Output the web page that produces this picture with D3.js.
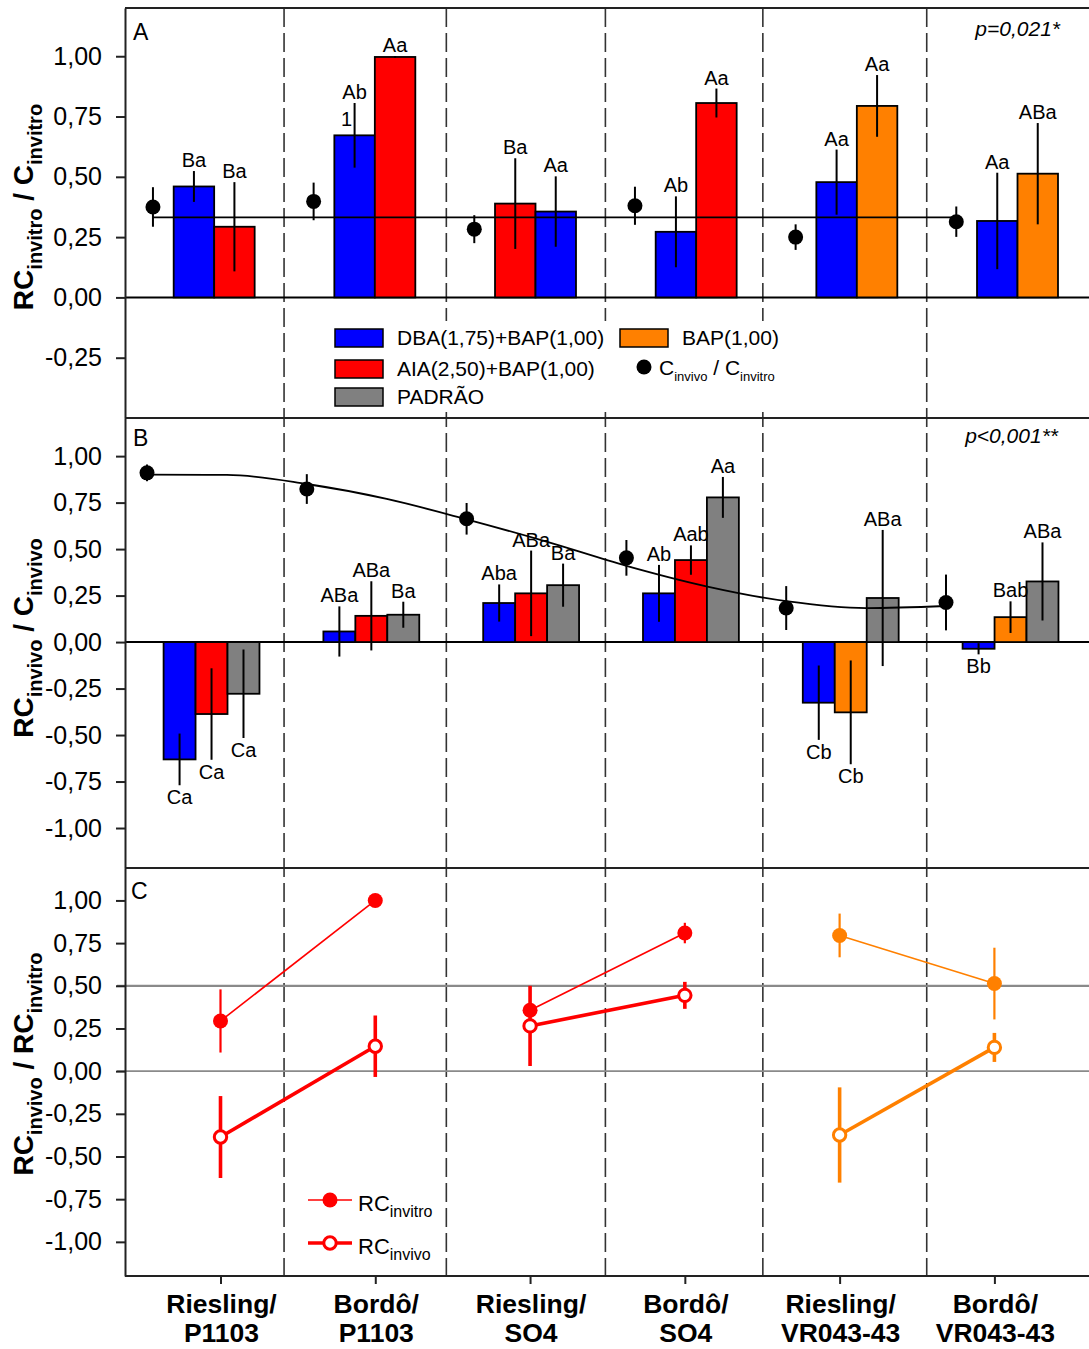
<!DOCTYPE html>
<html>
<head>
<meta charset="utf-8">
<script src="https://cdn.jsdelivr.net/npm/d3@7"></script>
<style>
  html, body { margin: 0; padding: 0; background: #ffffff; }
  svg { display: block; font-family: "Liberation Sans", Arial, sans-serif; }
  text { white-space: pre; }
</style>
</head>
<body>
<svg id="chart" width="1089" height="1349"></svg>
<script>
// ---------------- data ----------------
const categoryTop    = ["Riesling/", "Bordô/", "Riesling/", "Bordô/", "Riesling/", "Bordô/"];
const categoryBottom = ["P1103", "P1103", "SO4", "SO4", "VR043-43", "VR043-43"];

const treatmentKeys   = ["DBA", "AIA", "PAD", "BAP"];
const treatmentNames  = ["DBA(1,75)+BAP(1,00)", "AIA(2,50)+BAP(1,00)", "PADRÃO", "BAP(1,00)"];
const treatmentColors = ["#0000ff", "#ff0000", "#808080", "#ff8000"];

// Panel A: RC invitro / C invitro
const aTreat   = [["DBA","AIA"], ["DBA","AIA"], ["AIA","DBA"], ["DBA","AIA"], ["DBA","BAP"], ["DBA","BAP"]];
const aValue   = [[0.460, 0.293], [0.672, 0.997], [0.389, 0.356], [0.272, 0.806], [0.478, 0.794], [0.317, 0.513]];
const aError   = [[0.064, 0.185], [0.134, 0.004], [0.188, 0.146], [0.147, 0.060], [0.135, 0.128], [0.200, 0.210]];
const aLetters = [["Ba","Ba"], ["Ab","Aa"], ["Ba","Aa"], ["Ab","Aa"], ["Aa","Aa"], ["Aa","ABa"]];
const aNotes   = [{ cat: 1, bar: 0, text: "1" }];
const aRatio    = [0.375, 0.398, 0.283, 0.380, 0.250, 0.314];
const aRatioErr = [0.082, 0.078, 0.058, 0.079, 0.053, 0.063];
const aRatioMean = 0.332;
const aPValue = "p=0,021*";

// Panel B: RC invivo / C invivo
const bTreat   = [["DBA","AIA","PAD"], ["DBA","AIA","PAD"], ["DBA","AIA","PAD"], ["DBA","AIA","PAD"], ["DBA","BAP","PAD"], ["DBA","BAP","PAD"]];
const bValue   = [[-0.631, -0.387, -0.278], [0.057, 0.141, 0.147], [0.210, 0.262, 0.306], [0.262, 0.441, 0.778], [-0.326, -0.378, 0.237], [-0.036, 0.134, 0.326]];
const bError   = [[0.139, 0.246, 0.238], [0.135, 0.186, 0.070], [0.100, 0.230, 0.116], [0.153, 0.079, 0.110], [0.200, 0.279, 0.366], [0.030, 0.085, 0.210]];
const bLetters = [["Ca","Ca","Ca"], ["ABa","ABa","Ba"], ["Aba","ABa","Ba"], ["Ab","Aab","Aa"], ["Cb","Cb","ABa"], ["Bb","Bab","ABa"]];
const bRatio    = [0.910, 0.823, 0.663, 0.453, 0.183, 0.213];
const bRatioErr = [0.045, 0.080, 0.085, 0.096, 0.118, 0.150];
// fitted trend of C invivo / C invitro (position in category units, value)
const trendT = [0, 0.5, 1, 1.5, 2, 2.5, 3, 3.5, 4, 4.5, 5];
const trendV = [0.900, 0.899, 0.850, 0.770, 0.660, 0.540, 0.410, 0.300, 0.220, 0.183, 0.194];
const bPValue = "p<0,001**";

// Panel C: RC invivo / RC invitro
const cTreat       = ["AIA", "AIA", "AIA", "AIA", "BAP", "BAP"];
const cInvitro     = [0.294, 1.000, 0.357, 0.809, 0.795, 0.513];
const cInvitroErr  = [0.185, 0.005, 0.140, 0.060, 0.128, 0.210];
const cInvivo      = [-0.386, 0.146, 0.265, 0.444, -0.374, 0.139];
const cInvivoErr   = [0.240, 0.180, 0.235, 0.079, 0.279, 0.085];
const cPairs       = [[0, 1], [2, 3], [4, 5]];
const cRefLines    = [0.5, 0];

const ticksA  = [-0.25, 0, 0.25, 0.5, 0.75, 1];
const ticksBC = [-1, -0.75, -0.5, -0.25, 0, 0.25, 0.5, 0.75, 1];
const dividerPos = [0.99, 2.0, 2.99, 3.97, 4.99];

// ---------------- layout ----------------
const svg = d3.select("#chart");
const left = 125, right = 1089;
const topA = 8, topB = 418, topC = 868, bottomC = 1276;
const colorOf = k => treatmentColors[treatmentKeys.indexOf(k)];

const xSeg = d3.scaleLinear().domain([0, 6]).range([left, right]);
const xB   = d3.scaleLinear().domain([0, 6]).range([left, 1083.8]);
const xC   = d3.scaleLinear().domain([0, 5]).range([220.5, 994.4]);
const yA = d3.scaleLinear().domain([-0.5, 1.2]).range([topB, topA]);
const yB = d3.scaleLinear().domain([-1.215, 1.205]).range([topC, topB]);
const yC = d3.scaleLinear().domain([-1.2, 1.19]).range([bottomC, topC]);

const locale = d3.formatLocale({ decimal: ",", thousands: ".", grouping: [3], currency: ["", ""], minus: "-" });
const fmt = locale.format(".2f");

svg.append("rect").attr("width", 1089).attr("height", 1349).attr("fill", "#fff");

// dashed separators between graft combinations
svg.append("g").selectAll("line").data(dividerPos).join("line")
  .attr("x1", d => xSeg(d)).attr("x2", d => xSeg(d))
  .attr("y1", topA).attr("y2", bottomC)
  .attr("stroke", "#333").attr("stroke-width", 1.6).attr("stroke-dasharray", "19,6");

// panel borders
svg.append("g").selectAll("line").data([topA, topB, topC, bottomC]).join("line")
  .attr("x1", left).attr("x2", right + 2).attr("y1", d => d).attr("y2", d => d)
  .attr("stroke", "#222").attr("stroke-width", 2);

// ---------- helpers ----------
function barGroup(g, x, y, treat, values, errors, letters, start, width) {
  const bars = [];
  treat.forEach((row, i) => row.forEach((k, j) => bars.push({
    i, j, k, v: values[i][j], e: errors[i][j], lab: letters[i][j],
    x0: start + i + j * width
  })));
  const bw = x(width) - x(0);
  g.append("g").selectAll("rect").data(bars).join("rect")
    .attr("x", d => x(d.x0)).attr("width", bw)
    .attr("y", d => y(Math.max(0, d.v))).attr("height", d => Math.abs(y(d.v) - y(0)))
    .attr("fill", d => colorOf(d.k)).attr("stroke", "#000").attr("stroke-width", 1.8);
  g.append("g").selectAll("line").data(bars).join("line")
    .attr("x1", d => x(d.x0) + bw / 2).attr("x2", d => x(d.x0) + bw / 2)
    .attr("y1", d => y(d.v + d.e)).attr("y2", d => y(d.v - d.e))
    .attr("stroke", "#000").attr("stroke-width", 2);
  g.append("g").selectAll("text").data(bars).join("text")
    .attr("x", d => x(d.x0) + bw / 2)
    .attr("y", d => d.v >= 0 ? y(d.v + d.e) - 4 : y(d.v - d.e) + 19)
    .attr("text-anchor", "middle").attr("font-size", 20).attr("fill", "#000")
    .text(d => d.lab);
  return { bars, bw };
}

function ratioDots(g, x, y, offset, vals, errs) {
  const pts = vals.map((v, i) => ({ i, v, e: errs[i] }));
  g.append("g").selectAll("line").data(pts).join("line")
    .attr("x1", d => x(d.i + offset)).attr("x2", d => x(d.i + offset))
    .attr("y1", d => y(d.v + d.e)).attr("y2", d => y(d.v - d.e))
    .attr("stroke", "#000").attr("stroke-width", 2);
  g.append("g").selectAll("circle").data(pts).join("circle")
    .attr("cx", d => x(d.i + offset)).attr("cy", d => y(d.v)).attr("r", 7.5)
    .attr("fill", "#000");
}

function yAxis(scale, ticks) {
  const g = svg.append("g").attr("transform", `translate(${left},0)`)
    .call(d3.axisLeft(scale).tickValues(ticks).tickFormat(fmt).tickSize(9).tickPadding(14).tickSizeOuter(0));
  g.select(".domain").attr("stroke", "#222").attr("stroke-width", 2);
  g.selectAll(".tick line").attr("stroke", "#222").attr("stroke-width", 2);
  g.selectAll(".tick text").attr("font-size", 25).attr("font-family", "Liberation Sans, Arial, sans-serif").attr("fill", "#000");
}

function yTitle(cy, parts) {
  const t = svg.append("text")
    .attr("transform", `translate(33,${cy}) rotate(-90)`)
    .attr("text-anchor", "middle").attr("font-weight", "bold").attr("font-size", 28).attr("fill", "#000");
  let down = 0;
  parts.forEach(p => {
    const shift = p.sub ? 9 : 0;
    t.append("tspan").attr("dy", shift - down).attr("font-size", p.sub ? 20 : 28).text(p.t);
    down = shift;
  });
}

// ---------------- Panel A ----------------
const gA = svg.append("g");
gA.append("line").attr("x1", left).attr("x2", right + 2).attr("y1", yA(0)).attr("y2", yA(0))
  .attr("stroke", "#000").attr("stroke-width", 2);
const resA = barGroup(gA, xSeg, yA, aTreat, aValue, aError, aLetters, 0.303, 0.252);
aNotes.forEach(n => {
  const b = resA.bars.find(d => d.i === n.cat && d.j === n.bar);
  gA.append("text").attr("x", xSeg(b.x0) + resA.bw / 2 - 8).attr("y", yA(b.v + b.e) + 23)
    .attr("text-anchor", "middle").attr("font-size", 20).text(n.text);
});
gA.append("line")
  .attr("x1", xSeg(0.174)).attr("x2", xSeg(aRatio.length - 1 + 0.174))
  .attr("y1", yA(aRatioMean)).attr("y2", yA(aRatioMean))
  .attr("stroke", "#000").attr("stroke-width", 1.6);
ratioDots(gA, xSeg, yA, 0.174, aRatio, aRatioErr);
gA.append("text").attr("x", 1060).attr("y", 36).attr("text-anchor", "end")
  .attr("font-style", "italic").attr("font-size", 21).text(aPValue);
gA.append("text").attr("x", 133).attr("y", 40).attr("font-size", 23).text("A");

// legend (bars + ratio marker) on an opaque box
const legA = gA.append("g").attr("font-size", 21);
legA.append("rect").attr("x", 326).attr("y", 321).attr("width", 460).attr("height", 91).attr("fill", "#fff");
const legItems = [
  { k: "DBA", x: 335, y: 329 }, { k: "BAP", x: 620, y: 329 },
  { k: "AIA", x: 335, y: 360 }, { k: "PAD", x: 335, y: 388 }
];
legItems.forEach(d => {
  legA.append("rect").attr("x", d.x).attr("y", d.y).attr("width", 48).attr("height", 18)
    .attr("fill", colorOf(d.k)).attr("stroke", "#000").attr("stroke-width", 1.5);
  legA.append("text").attr("x", d.x + 62).attr("y", d.y + 16)
    .text(treatmentNames[treatmentKeys.indexOf(d.k)]);
});
legA.append("circle").attr("cx", 644).attr("cy", 367).attr("r", 7.5).attr("fill", "#000");
const legRatio = legA.append("text").attr("x", 659).attr("y", 375);
legRatio.append("tspan").text("C");
legRatio.append("tspan").attr("dy", 6).attr("font-size", 13).text("invivo");
legRatio.append("tspan").attr("dy", -6).text(" / C");
legRatio.append("tspan").attr("dy", 6).attr("font-size", 13).text("invitro");

// ---------------- Panel B ----------------
const gB = svg.append("g");
gB.append("line").attr("x1", left).attr("x2", right + 2).attr("y1", yB(0)).attr("y2", yB(0))
  .attr("stroke", "#000").attr("stroke-width", 2);
barGroup(gB, xB, yB, bTreat, bValue, bError, bLetters, 0.2415, 0.2);
const trend = trendT.map((t, i) => [t, trendV[i]]);
gB.append("path").datum(trend)
  .attr("d", d3.line().x(d => xB(d[0] + 0.1377)).y(d => yB(d[1])).curve(d3.curveMonotoneX))
  .attr("fill", "none").attr("stroke", "#000").attr("stroke-width", 1.8);
ratioDots(gB, xB, yB, 0.1377, bRatio, bRatioErr);
gB.append("text").attr("x", 1058).attr("y", 443).attr("text-anchor", "end")
  .attr("font-style", "italic").attr("font-size", 21).text(bPValue);
gB.append("text").attr("x", 133).attr("y", 446).attr("font-size", 23).text("B");

// ---------------- Panel C ----------------
const gC = svg.append("g");
gC.append("g").selectAll("line").data(cRefLines).join("line")
  .attr("x1", left - 8).attr("x2", right + 2)
  .attr("y1", d => yC(d)).attr("y2", d => yC(d))
  .attr("stroke", "#8a8a8a").attr("stroke-width", (d, i) => i === 0 ? 2.2 : 1.6);

const cPts = cInvitro.map((v, i) => ({
  i, col: colorOf(cTreat[i]), vt: v, et: cInvitroErr[i], vv: cInvivo[i], ev: cInvivoErr[i]
}));
// connecting lines
cPairs.forEach(([a, b]) => {
  const col = cPts[a].col;
  gC.append("line").attr("x1", xC(a)).attr("x2", xC(b))
    .attr("y1", yC(cPts[a].vt)).attr("y2", yC(cPts[b].vt))
    .attr("stroke", col).attr("stroke-width", 1.6);
  gC.append("line").attr("x1", xC(a)).attr("x2", xC(b))
    .attr("y1", yC(cPts[a].vv)).attr("y2", yC(cPts[b].vv))
    .attr("stroke", col).attr("stroke-width", 3.6);
});
// error bars
gC.append("g").selectAll("line").data(cPts).join("line")
  .attr("x1", d => xC(d.i)).attr("x2", d => xC(d.i))
  .attr("y1", d => yC(d.vt + d.et)).attr("y2", d => yC(d.vt - d.et))
  .attr("stroke", d => d.col).attr("stroke-width", 2.2);
gC.append("g").selectAll("line").data(cPts).join("line")
  .attr("x1", d => xC(d.i)).attr("x2", d => xC(d.i))
  .attr("y1", d => yC(d.vv + d.ev)).attr("y2", d => yC(d.vv - d.ev))
  .attr("stroke", d => d.col).attr("stroke-width", 3.6);
// markers
gC.append("g").selectAll("circle").data(cPts).join("circle")
  .attr("cx", d => xC(d.i)).attr("cy", d => yC(d.vt)).attr("r", 7.5).attr("fill", d => d.col);
gC.append("g").selectAll("circle").data(cPts).join("circle")
  .attr("cx", d => xC(d.i)).attr("cy", d => yC(d.vv)).attr("r", 6.2)
  .attr("fill", "#fff").attr("stroke", d => d.col).attr("stroke-width", 3);
gC.append("text").attr("x", 131).attr("y", 899).attr("font-size", 23).text("C");

// legend of panel C
const legC = gC.append("g");
[{ y: 1200, open: false, sub: "invitro" }, { y: 1243, open: true, sub: "invivo" }].forEach(d => {
  legC.append("line").attr("x1", 308).attr("x2", 352).attr("y1", d.y).attr("y2", d.y)
    .attr("stroke", "#ff0000").attr("stroke-width", d.open ? 3.6 : 1.6);
  legC.append("circle").attr("cx", 330).attr("cy", d.y).attr("r", d.open ? 6.2 : 7.5)
    .attr("fill", d.open ? "#fff" : "#ff0000").attr("stroke", d.open ? "#ff0000" : "none")
    .attr("stroke-width", 3);
  const t = legC.append("text").attr("x", 358).attr("y", d.y + 11).attr("font-size", 22);
  t.append("tspan").text("RC");
  t.append("tspan").attr("dy", 6).attr("font-size", 16).text(d.sub);
});

// x axis of panel C
const gx = svg.append("g").attr("transform", `translate(0,${bottomC})`)
  .call(d3.axisBottom(xC).tickValues(d3.range(6)).tickSize(8).tickFormat(""));
gx.select(".domain").remove();
gx.selectAll(".tick line").attr("stroke", "#222").attr("stroke-width", 2);
const xl = svg.append("g").attr("font-weight", "bold").attr("font-size", 26.5).attr("text-anchor", "middle");
categoryTop.forEach((c, i) => {
  xl.append("text").attr("x", xC(i) + 1).attr("y", 1313).text(c);
  xl.append("text").attr("x", xC(i) + 1).attr("y", 1342).text(categoryBottom[i]);
});

// y axes
yAxis(yA, ticksA);
yAxis(yB, ticksBC);
yAxis(yC, ticksBC);

yTitle(207, [{ t: "RC" }, { t: "invitro", sub: true }, { t: " / C" }, { t: "invitro", sub: true }]);
yTitle(638, [{ t: "RC" }, { t: "invivo", sub: true }, { t: " / C" }, { t: "invivo", sub: true }]);
yTitle(1064, [{ t: "RC" }, { t: "invivo", sub: true }, { t: " / RC" }, { t: "invitro", sub: true }]);
</script>
</body>
</html>
